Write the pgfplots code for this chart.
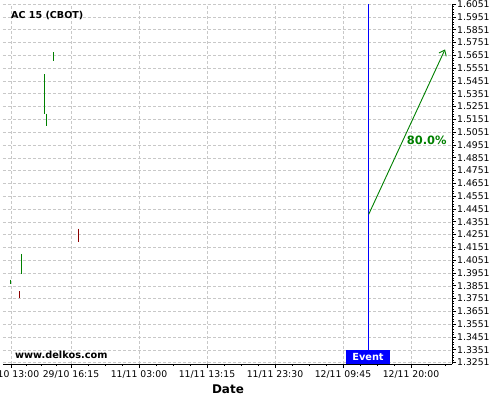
\documentclass[border=0pt]{standalone}
\usepackage{fontspec}
\setmainfont{DejaVu Sans}
\usepackage{pgfplots}
\pgfplotsset{compat=1.18}
\usetikzlibrary{arrows.meta}
\definecolor{upcol}{RGB}{0,128,0}
\definecolor{downcol}{RGB}{139,0,0}
\definecolor{gridcol}{RGB}{200,200,200}

\begin{document}
\begin{tikzpicture}
\begin{axis}[
    at={(0,0)}, anchor=south west,
    scale only axis, width=449bp, height=360bp,
    xmin=3, xmax=452, ymin=1.3240, ymax=1.6052,
    axis x line*=bottom, axis y line*=right,
    axis line style={-, black, line width=0.8bp},
    tick align=outside,
    major tick length=4bp, minor tick length=2bp,
    every tick/.style={black, line width=0.6bp},
    xtick={11,71,139,207,275,343,411},
    xticklabels={29/10 13:00, 29/10 16:15, 11/11 03:00, 11/11 13:15, 11/11 23:30, 12/11 09:45, 12/11 20:00},
    minor xtick={26,41,56,88,105,122,156,173,190,224,241,258,292,309,326,360,377,394,428,445},
    ytick={1.3251,1.3351,1.3451,1.3551,1.3651,1.3751,1.3851,1.3951,1.4051,1.4151,1.4251,1.4351,1.4451,1.4551,1.4651,1.4751,1.4851,1.4951,1.5051,1.5151,1.5251,1.5351,1.5451,1.5551,1.5651,1.5751,1.5851,1.5951,1.6051},
    minor y tick num=4,
    yticklabel style={/pgf/number format/fixed, /pgf/number format/precision=4, /pgf/number format/fixed zerofill, /pgf/number format/assume math mode=true, anchor=west, inner sep=1bp},
    ticklabel style={font=\fontsize{9.3}{11}\selectfont},
    xticklabel style={inner sep=1bp, yshift=-1bp},
    grid=major,
    major grid style={gridcol, dash pattern=on 3bp off 2bp, line width=0.5bp},
    xlabel={Date},
    every axis x label/.style={at={(axis description cs:0.501,0)}, yshift=-25bp, anchor=center, font=\fontsize{12}{14}\selectfont\bfseries},
    clip=false,
]
% price bars
\addplot[upcol, line width=1bp] coordinates {(10.3,1.3900) (10.3,1.3861)};
\addplot[downcol, line width=1bp] coordinates {(19.3,1.3809) (19.3,1.3757)};
\addplot[upcol, line width=1bp] coordinates {(21.7,1.4101) (21.7,1.3945)};
\addplot[upcol, line width=1bp] coordinates {(44.3,1.5504) (44.3,1.5196)};
\addplot[upcol, line width=1bp] coordinates {(46.3,1.5196) (46.3,1.5102)};
\addplot[upcol, line width=1bp] coordinates {(53.3,1.5676) (53.3,1.5603)};
\addplot[downcol, line width=1bp] coordinates {(78.3,1.4297) (78.3,1.4192)};
% event line and arrow
\addplot[blue, line width=1bp] coordinates {(368.7,1.3240) (368.7,1.6052)};
\addplot[upcol, line width=0.9bp, -{Straight Barb[length=5bp, width=8bp]}] coordinates {(368.7,1.4409) (445,1.5697)};
\node[text=upcol, font=\fontsize{11.5}{13}\selectfont\bfseries] at (axis cs:426.7,1.4987) {80.0\%};
\node[fill=blue, text=white, font=\fontsize{9.8}{11}\selectfont\bfseries, minimum width=44bp, minimum height=14bp, inner sep=0pt, anchor=south] at (axis cs:368,1.3240) {Event};
\node[anchor=west, inner sep=0pt, font=\fontsize{9.6}{11}\selectfont\bfseries] at (axis cs:11,1.5961) {AC 15 (CBOT)};
\node[anchor=west, inner sep=0pt, font=\fontsize{9.8}{11}\selectfont\bfseries] at (axis cs:15,1.3314) {www.delkos.com};
\end{axis}
\pgfresetboundingbox
\useasboundingbox (-3bp,-36bp) rectangle (497bp,364bp);
\end{tikzpicture}
\end{document}
